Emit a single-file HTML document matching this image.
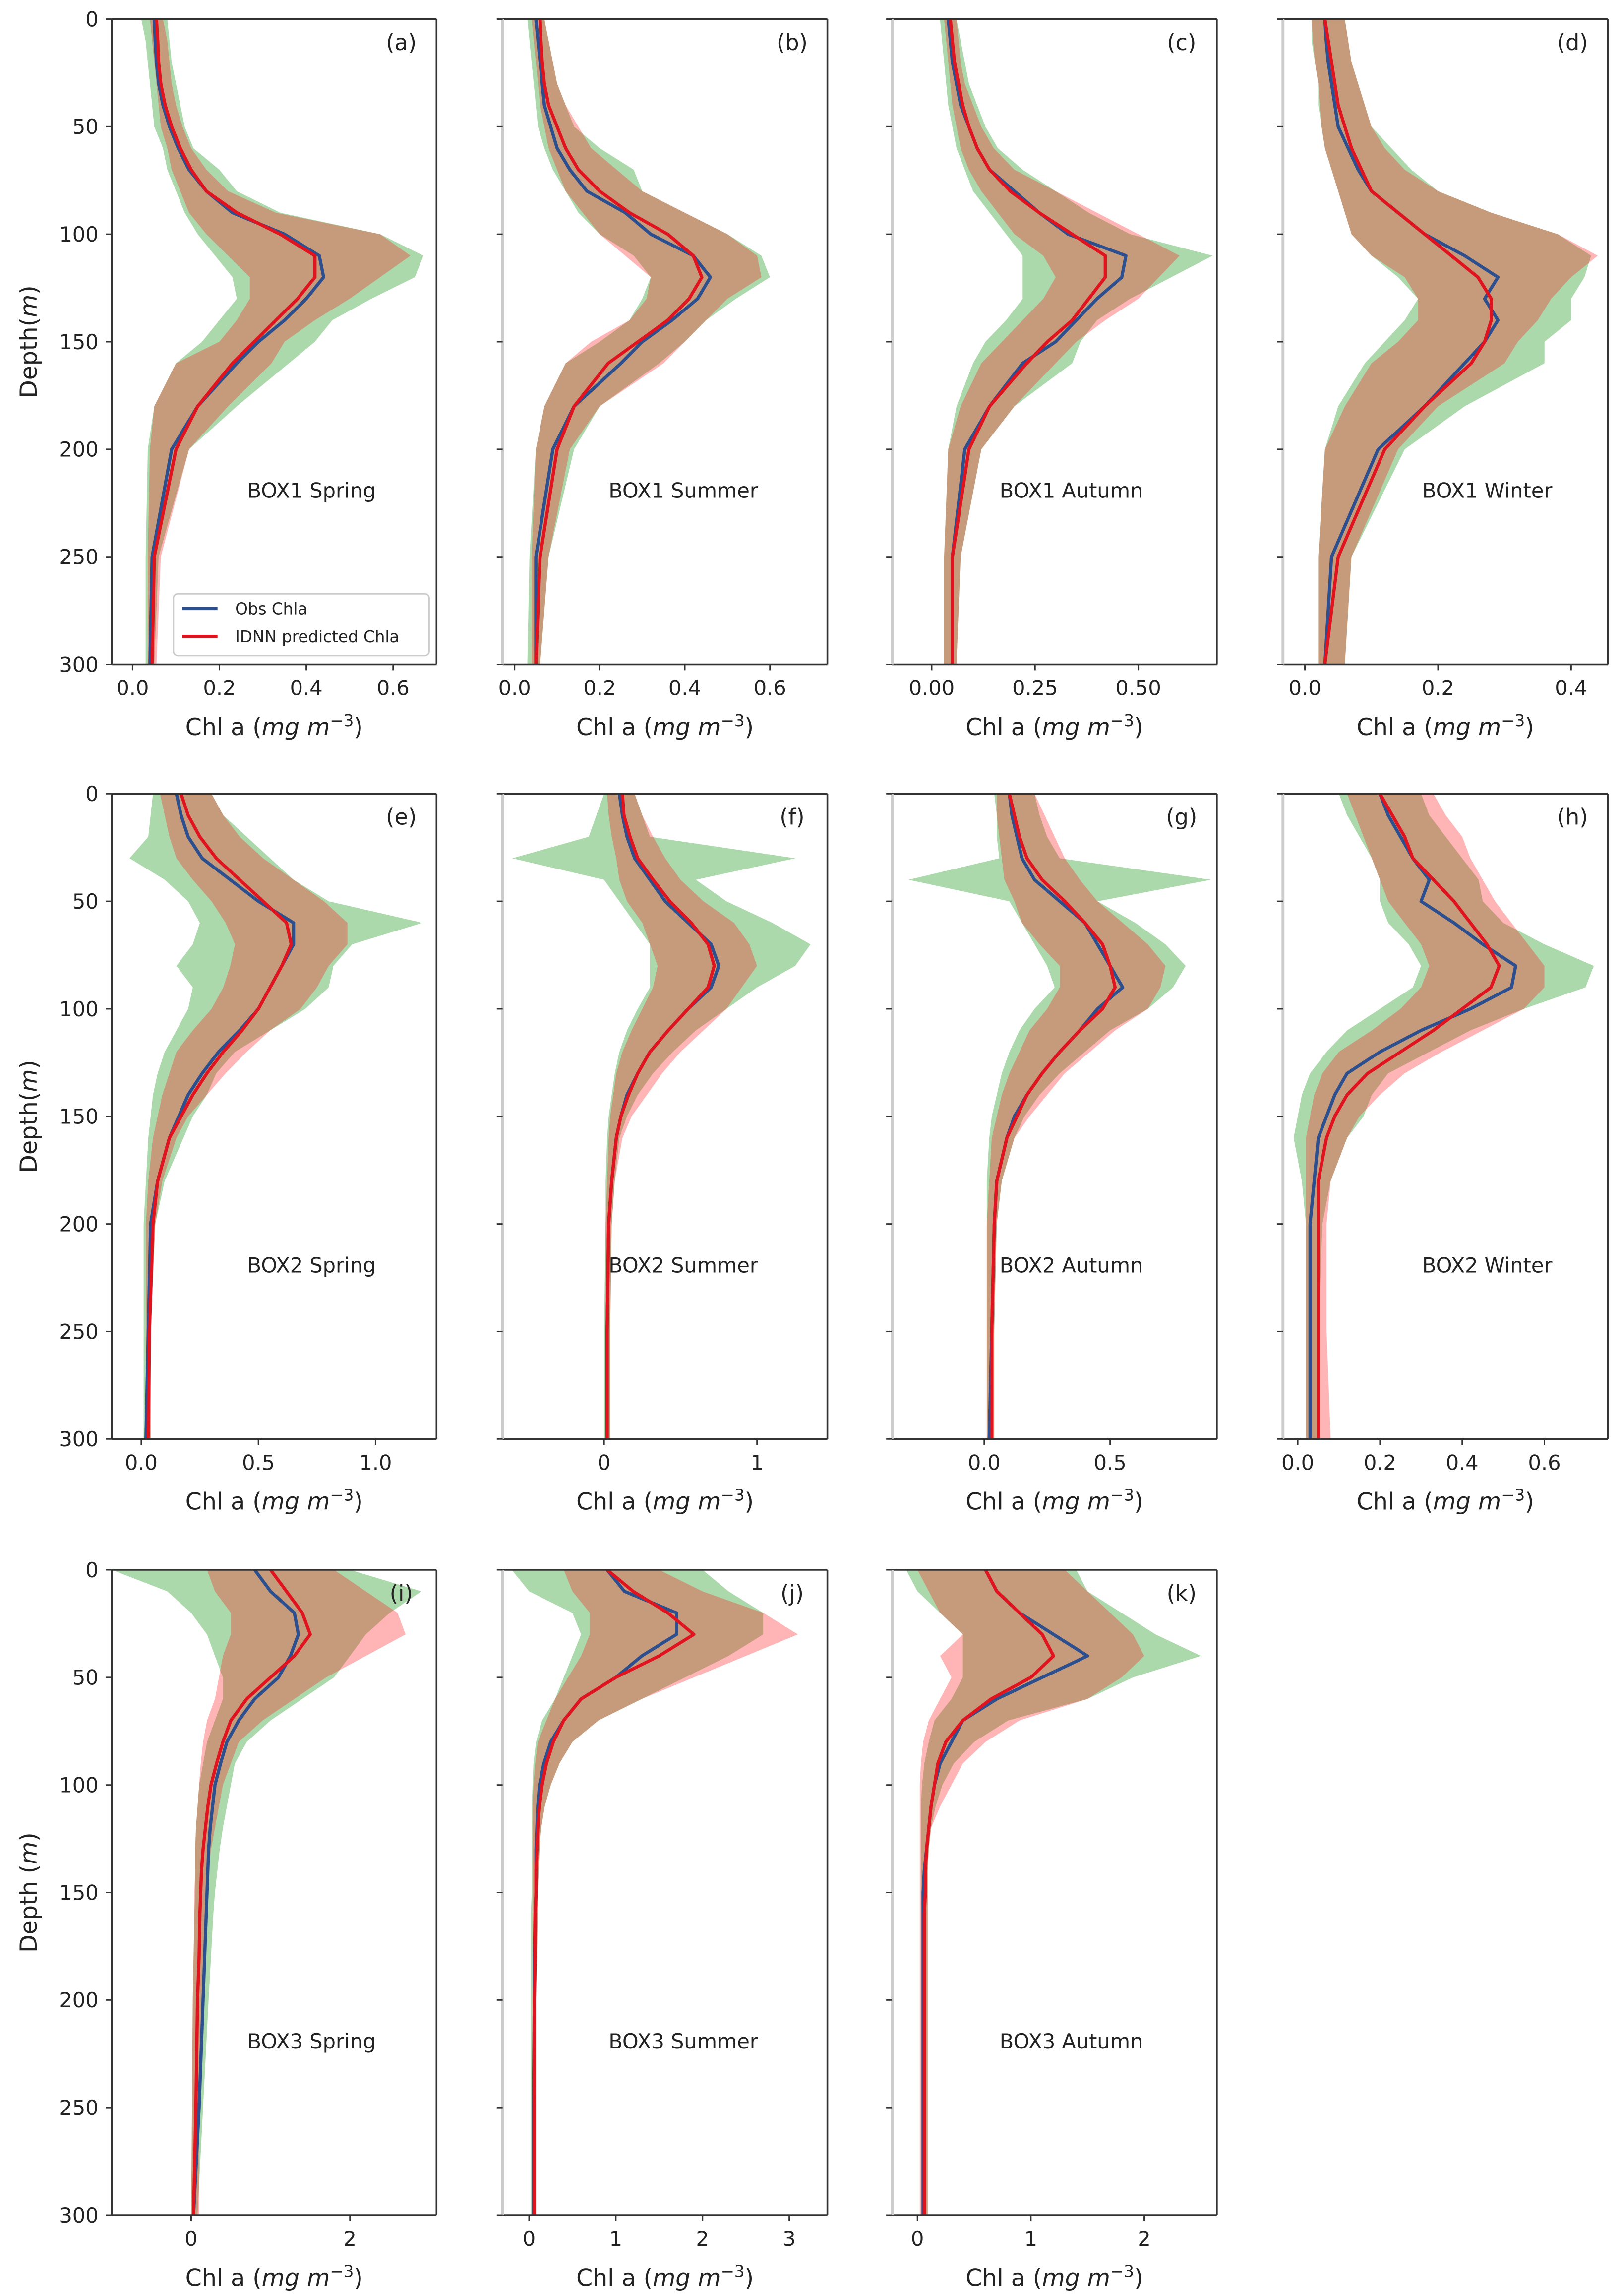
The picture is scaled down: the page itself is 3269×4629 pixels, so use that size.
<!DOCTYPE html>
<html><head><meta charset="utf-8"><title>Chl a profiles</title>
<style>html,body{margin:0;padding:0;background:#fff}svg{display:block}</style></head>
<body>
<svg id="fig" xmlns="http://www.w3.org/2000/svg" width="3269" height="4629" viewBox="0 0 1103 1562" font-family="'DejaVu Sans', 'Liberation Sans', sans-serif"></svg>
<script>
const depths=[0,10,20,30,40,50,60,70,80,90,100,110,120,130,140,150,160,180,200,250,300];
const panelIds=['a','b','c','d','e','f','g','h','i','j','k'];
const boxLabels=['BOX1 Spring','BOX1 Summer','BOX1 Autumn','BOX1 Winter','BOX2 Spring','BOX2 Summer','BOX2 Autumn','BOX2 Winter','BOX3 Spring','BOX3 Summer','BOX3 Autumn'];
const xDomains=[[-0.048,0.70],[-0.028,0.735],[-0.096,0.69],[-0.033,0.455],[-0.126,1.26],[-0.663,1.46],[-0.366,0.924],[-0.036,0.754],[-1.0,3.09],[-0.305,3.44],[-0.224,2.64]];
const xTicks=[[0,0.2,0.4,0.6],[0,0.2,0.4,0.6],[0,0.25,0.5],[0,0.2,0.4],[0,0.5,1.0],[0,1],[0,0.5],[0,0.2,0.4,0.6],[0,2],[0,1,2,3],[0,1,2]];
const xTickLabels=[['0.0','0.2','0.4','0.6'],['0.0','0.2','0.4','0.6'],['0.00','0.25','0.50'],['0.0','0.2','0.4'],['0.0','0.5','1.0'],['0','1'],['0.0','0.5'],['0.0','0.2','0.4','0.6'],['0','2'],['0','1','2','3'],['0','1','2']];
const yTicks=[0,50,100,150,200,250,300];
const obsMean=[
[.05,.052,.055,.06,.07,.085,.105,.13,.17,.23,.35,.43,.44,.40,.35,.29,.24,.15,.09,.045,.04],
[.05,.055,.06,.065,.07,.085,.1,.13,.17,.26,.32,.42,.46,.43,.37,.3,.25,.14,.09,.05,.05],
[.04,.045,.05,.06,.07,.09,.11,.14,.2,.26,.33,.47,.46,.4,.35,.3,.22,.14,.08,.05,.05],
[.03,.032,.035,.04,.045,.05,.065,.08,.1,.14,.18,.24,.29,.27,.29,.27,.24,.18,.11,.04,.03],
[.15,.17,.2,.26,.38,.5,.65,.65,.6,.55,.5,.42,.33,.26,.2,.16,.12,.07,.04,.03,.02],
[.1,.12,.15,.2,.3,.4,.55,.7,.75,.7,.55,.42,.3,.22,.15,.11,.08,.05,.03,.02,.02],
[.1,.11,.13,.15,.2,.3,.4,.45,.5,.55,.45,.38,.3,.23,.17,.12,.09,.05,.04,.03,.02],
[.2,.22,.25,.28,.32,.3,.38,.45,.53,.52,.42,.3,.2,.12,.09,.07,.05,.04,.03,.03,.03],
[.8,1.0,1.3,1.35,1.25,1.1,.8,.6,.45,.37,.3,.27,.24,.22,.21,.2,.19,.17,.15,.1,.03],
[.9,1.1,1.7,1.7,1.3,1.0,.6,.4,.25,.17,.12,.1,.09,.08,.08,.08,.07,.06,.06,.05,.05],
[.6,.7,.9,1.2,1.5,1.1,.7,.4,.3,.2,.15,.12,.1,.08,.06,.05,.05,.05,.05,.05,.05]];
const predMean=[
[.055,.058,.06,.065,.075,.09,.11,.135,.17,.24,.34,.42,.42,.38,.33,.28,.23,.15,.10,.05,.045],
[.06,.062,.065,.07,.08,.1,.12,.15,.2,.27,.36,.42,.44,.41,.36,.29,.22,.14,.1,.06,.05],
[.045,.05,.055,.065,.075,.09,.11,.14,.19,.26,.34,.42,.42,.38,.34,.28,.23,.14,.09,.05,.05],
[.03,.035,.04,.045,.05,.06,.07,.085,.1,.14,.18,.22,.26,.28,.28,.27,.25,.18,.12,.05,.03],
[.17,.2,.25,.32,.42,.52,.62,.64,.6,.55,.5,.43,.35,.28,.22,.17,.12,.07,.05,.035,.03],
[.12,.13,.17,.22,.32,.43,.57,.68,.72,.68,.55,.42,.3,.22,.16,.11,.08,.05,.03,.02,.02],
[.1,.12,.14,.17,.23,.32,.4,.47,.5,.52,.47,.38,.3,.23,.17,.13,.09,.05,.04,.03,.03],
[.2,.23,.26,.28,.33,.38,.42,.46,.49,.47,.4,.33,.25,.17,.12,.09,.07,.05,.05,.05,.05],
[1.0,1.2,1.4,1.5,1.3,1.0,.7,.5,.4,.32,.25,.21,.18,.15,.13,.12,.11,.1,.08,.06,.03],
[.9,1.2,1.6,1.9,1.5,1.0,.6,.4,.28,.2,.15,.12,.1,.09,.08,.08,.07,.07,.06,.06,.06],
[.6,.7,.9,1.1,1.2,1.0,.65,.4,.25,.18,.15,.12,.1,.08,.07,.07,.06,.06,.06,.06,.06]];
const obsLow=[
[.02,.03,.035,.04,.045,.05,.07,.08,.1,.12,.15,.19,.23,.24,.2,.16,.1,.05,.035,.03,.03],
[.03,.035,.04,.045,.05,.055,.07,.09,.12,.15,.2,.28,.32,.3,.27,.2,.12,.07,.05,.035,.03],
[.02,.025,.03,.035,.04,.05,.06,.08,.1,.14,.18,.22,.22,.22,.18,.13,.1,.06,.04,.03,.03],
[.01,.01,.015,.02,.02,.025,.03,.04,.05,.06,.07,.1,.14,.17,.15,.12,.09,.05,.03,.02,.02],
[.05,.04,.03,-.05,.1,.2,.25,.22,.15,.22,.2,.15,.1,.07,.05,.04,.03,.02,.01,.01,.01],
[0,-.05,-.1,-.6,0,.1,.2,.3,.3,.3,.22,.15,.1,.07,.05,.03,.02,.01,.01,0,0],
[.04,.05,.05,.06,-.3,.1,.15,.2,.25,.28,.2,.14,.1,.07,.05,.03,.02,.01,.01,.01,.01],
[.1,.12,.15,.18,.2,.2,.22,.27,.3,.28,.2,.12,.07,.03,.01,0,-.01,.01,.02,.02,.02],
[-1.0,-.3,0,.2,.3,.4,.4,.3,.2,.15,.1,.08,.06,.05,.05,.05,.04,.03,.02,.01,0],
[-.2,0,.5,.6,.5,.4,.3,.15,.08,.05,.04,.03,.03,.03,.03,.03,.02,.02,.02,.02,.02],
[-.1,0,.2,.4,.4,.4,.3,.15,.1,.06,.04,.03,.03,.03,.03,.03,.03,.03,.03,.03,.03]];
const obsHigh=[
[.08,.085,.09,.1,.11,.12,.14,.2,.24,.34,.57,.67,.65,.55,.46,.42,.36,.24,.13,.06,.05],
[.07,.08,.09,.1,.12,.14,.2,.28,.3,.4,.5,.58,.6,.52,.45,.4,.34,.2,.14,.08,.06],
[.06,.07,.08,.09,.11,.13,.16,.22,.3,.38,.48,.68,.58,.48,.4,.36,.34,.2,.12,.07,.06],
[.06,.065,.07,.08,.09,.1,.13,.16,.2,.28,.38,.43,.42,.4,.4,.36,.36,.24,.15,.07,.06],
[.3,.35,.45,.55,.65,.8,1.2,.9,.82,.8,.7,.55,.4,.32,.28,.22,.18,.1,.06,.04,.04],
[.2,.25,.3,1.25,.6,.8,1.1,1.35,1.25,1.0,.8,.6,.45,.32,.22,.15,.1,.07,.05,.04,.04],
[.2,.22,.25,.3,.9,.45,.6,.72,.8,.75,.65,.5,.4,.3,.22,.16,.12,.07,.05,.04,.04],
[.3,.32,.36,.4,.44,.45,.5,.6,.72,.7,.55,.42,.32,.22,.18,.16,.12,.08,.06,.05,.05],
[2.0,2.9,2.5,2.2,2.0,1.8,1.4,1.0,.7,.55,.5,.45,.4,.36,.33,.3,.28,.25,.22,.15,.08],
[2.0,2.3,2.7,2.7,2.3,1.8,1.3,.8,.5,.35,.25,.18,.14,.12,.11,.1,.1,.09,.08,.08,.08],
[1.4,1.5,1.8,2.1,2.5,1.9,1.5,.8,.5,.32,.22,.16,.12,.1,.09,.09,.09,.09,.09,.09,.09]];
const predLow=[
[.04,.045,.05,.055,.06,.065,.08,.09,.11,.13,.17,.22,.27,.27,.24,.2,.1,.05,.04,.035,.035],
[.04,.045,.05,.055,.06,.07,.08,.1,.12,.16,.2,.26,.32,.31,.27,.18,.12,.07,.05,.04,.04],
[.03,.035,.04,.045,.05,.06,.07,.09,.12,.16,.2,.27,.3,.27,.22,.17,.12,.07,.04,.03,.03],
[.01,.012,.015,.02,.022,.025,.03,.04,.05,.06,.07,.1,.15,.17,.17,.14,.1,.06,.03,.02,.02],
[.08,.1,.12,.15,.22,.3,.36,.4,.38,.35,.3,.22,.15,.12,.09,.07,.05,.03,.02,.02,.02],
[.02,.03,.05,.08,.1,.15,.25,.3,.35,.32,.25,.18,.12,.08,.06,.04,.03,.02,.01,.01,.01],
[.05,.05,.06,.07,.08,.12,.15,.22,.3,.3,.25,.18,.14,.1,.07,.05,.03,.02,.01,.01,.01],
[.12,.14,.16,.18,.2,.22,.26,.3,.32,.3,.25,.18,.1,.06,.04,.03,.02,.02,.02,.02,.02],
[.2,.3,.5,.5,.4,.35,.3,.2,.15,.12,.1,.08,.06,.05,.05,.04,.04,.03,.02,.01,0],
[.4,.5,.7,.7,.6,.45,.3,.2,.1,.07,.05,.04,.04,.04,.04,.04,.04,.04,.04,.04,.04],
[0,.1,.2,.4,.2,.3,.2,.1,.05,.03,.02,.02,.02,.02,.02,.02,.02,.02,.02,.02,.02]];
const predHigh=[
[.07,.08,.085,.09,.1,.115,.135,.17,.22,.33,.57,.64,.57,.5,.42,.35,.32,.22,.13,.065,.055],
[.07,.08,.09,.1,.12,.15,.18,.24,.3,.4,.5,.57,.58,.5,.45,.4,.35,.2,.13,.08,.06],
[.06,.065,.07,.08,.1,.12,.15,.2,.3,.4,.5,.6,.55,.5,.42,.35,.3,.2,.12,.07,.06],
[.06,.065,.07,.08,.09,.1,.12,.15,.2,.28,.38,.44,.4,.37,.35,.32,.3,.2,.14,.07,.06],
[.3,.35,.42,.52,.65,.78,.88,.88,.8,.75,.68,.55,.45,.36,.28,.2,.15,.09,.06,.04,.04],
[.2,.25,.32,.4,.5,.65,.85,.95,1.0,.9,.8,.65,.5,.38,.28,.18,.12,.07,.05,.04,.04],
[.2,.24,.28,.32,.38,.45,.55,.65,.72,.7,.65,.52,.42,.32,.25,.18,.12,.07,.05,.04,.04],
[.33,.36,.4,.42,.45,.48,.52,.56,.6,.6,.55,.45,.35,.26,.2,.15,.12,.08,.07,.07,.08],
[1.8,2.2,2.6,2.7,2.2,1.7,1.3,.9,.6,.5,.4,.35,.3,.25,.22,.2,.18,.15,.13,.1,.1],
[1.5,2.0,2.7,3.1,2.5,1.9,1.3,.8,.5,.35,.25,.18,.14,.12,.11,.1,.1,.09,.08,.08,.08],
[1.3,1.5,1.7,1.9,2.0,1.8,1.5,.9,.6,.4,.3,.2,.12,.1,.09,.09,.09,.09,.09,.09,.09]];

const NS='http://www.w3.org/2000/svg';
const svg=document.getElementById('fig');
function mk(tag,attrs,parent){const e=document.createElementNS(NS,tag);for(const k in attrs)e.setAttribute(k,attrs[k]);(parent||svg).appendChild(e);return e;}
const colX=[76,342,607,873], rowY=[13,540,1068], PW=221, PH=439;
const boxLabelX=[136,123,122,139];

panelIds.forEach((pid,p)=>{
  const col=p%4,row=Math.floor(p/4);
  const x0=colX[col],y0=rowY[row];
  const dom=xDomains[p];
  const X=v=>x0+(v-dom[0])/(dom[1]-dom[0])*PW;
  const Y=d=>y0+d/300*PH;
  const g=mk('g',{});
  
  
  const clipId='clip'+pid;
  const cp=mk('clipPath',{id:clipId},g);
  mk('rect',{x:x0,y:y0,width:PW,height:PH},cp);
  const plot=mk('g',{'clip-path':'url(#'+clipId+')'},g);
  function band(lo,hi,fill,name){
    let pts=depths.map((d,i)=>X(hi[i]).toFixed(2)+','+Y(d).toFixed(2));
    for(let i=depths.length-1;i>=0;i--)pts.push(X(lo[i]).toFixed(2)+','+Y(depths[i]).toFixed(2));
    const e=mk('polygon',{points:pts.join(' '),fill:fill,stroke:'none'},plot);
    
    
  }
  function line(vals,color,name){
    const pts=depths.map((d,i)=>X(vals[i]).toFixed(2)+','+Y(d).toFixed(2)).join(' ');
    const e=mk('polyline',{points:pts,fill:'none',stroke:color,'stroke-width':2.2,'stroke-linejoin':'round'},plot);
    
    
  }
  band(obsLow[p],obsHigh[p],'rgba(44,160,44,0.4)','obs-range-band');
  band(predLow[p],predHigh[p],'rgba(255,30,30,0.33)','pred-range-band');
  line(obsMean[p],'#2d4f8e','obs-chla-line');
  line(predMean[p],'#e0141e','pred-chla-line');
  const sc='#333';
  mk('line',{x1:x0,y1:y0,x2:x0+PW,y2:y0,stroke:sc,'stroke-width':1.2},g);
  mk('line',{x1:x0+PW,y1:y0,x2:x0+PW,y2:y0+PH,stroke:sc,'stroke-width':1.2},g);
  mk('line',{x1:x0,y1:y0+PH,x2:x0+PW,y2:y0+PH,stroke:sc,'stroke-width':1.2},g);
  mk('line',{x1:x0,y1:y0,x2:x0,y2:y0+PH,stroke:col===0?sc:'#ccc','stroke-width':col===0?1.2:2},g);
  yTicks.forEach(t=>{
    mk('line',{x1:x0-4,y1:Y(t),x2:x0,y2:Y(t),stroke:sc,'stroke-width':1},g);
    if(col===0){
      const tx=mk('text',{x:x0-9,y:Y(t)+5,'text-anchor':'end','font-size':14,fill:'#222'},g);
      tx.textContent=t;
      
      
    }
  });
  xTicks[p].forEach((t,i)=>{
    mk('line',{x1:X(t),y1:y0+PH,x2:X(t),y2:y0+PH+4,stroke:sc,'stroke-width':1},g);
    const tx=mk('text',{x:X(t),y:y0+PH+21,'text-anchor':'middle','font-size':14,fill:'#222'},g);
    tx.textContent=xTickLabels[p][i];
    
    
  });
  const xl=mk('text',{x:x0+PW/2,y:y0+PH+48,'text-anchor':'middle','font-size':16,fill:'#222'},g);
  xl.innerHTML='Chl a (<tspan font-style="italic">mg m</tspan><tspan font-size="11" dy="-6">−3</tspan><tspan dy="6">)</tspan>';
  
  
  const pl=mk('text',{x:x0+PW-24,y:y0+21,'text-anchor':'middle','font-size':15,fill:'#222'},g);
  pl.textContent='('+pid+')';
  
  
  const bl=mk('text',{x:x0+boxLabelX[col],y:y0+PH*0.735+3,'text-anchor':'middle','font-size':14,fill:'#222'},g);
  bl.textContent=boxLabels[p];
  
  
  if(col===0){
    const yl=mk('text',{x:0,y:0,'text-anchor':'middle','font-size':16,fill:'#222',transform:'translate(25,'+(y0+PH/2)+') rotate(-90)'},g);
    yl.innerHTML=(row===2?'Depth (':'Depth(')+'<tspan font-style="italic">m</tspan>)';
    
    
  }
  if(p===0){
    const lg=mk('g',{},g);
    
    
    mk('rect',{x:118,y:404,width:174,height:42,rx:3,fill:'#fff','fill-opacity':0.85,stroke:'#ccc','stroke-width':1},lg);
    mk('line',{x1:124,y1:414,x2:148,y2:414,stroke:'#2d4f8e','stroke-width':2.2},lg);
    mk('line',{x1:124,y1:433,x2:148,y2:433,stroke:'#e0141e','stroke-width':2.2},lg);
    const t1=mk('text',{x:160,y:418,'font-size':11,fill:'#222'},lg);t1.textContent='Obs Chla';
    
    
    const t2=mk('text',{x:160,y:437,'font-size':11,fill:'#222'},lg);t2.textContent='IDNN predicted Chla';
    
    
  }
});
</script>
</body></html>
